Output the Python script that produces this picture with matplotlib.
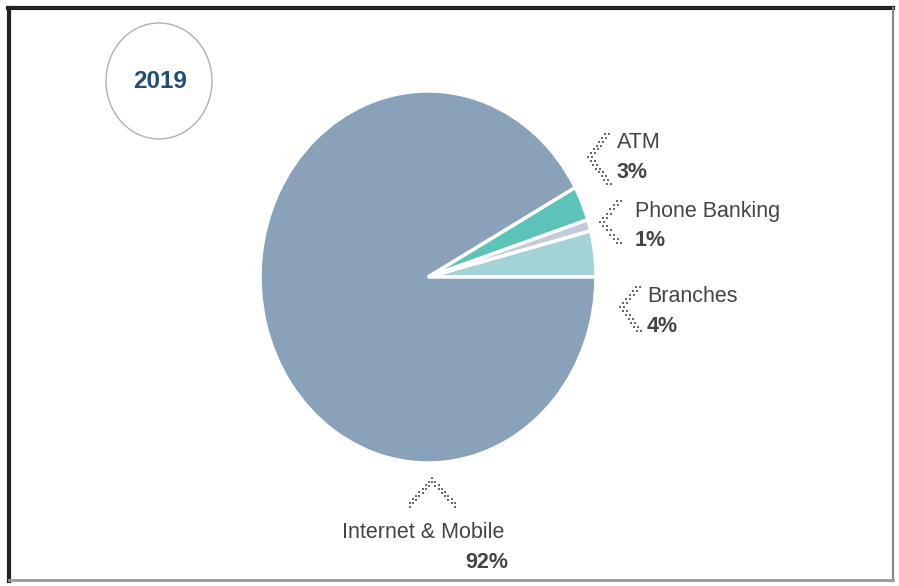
import numpy as np
import matplotlib.pyplot as plt
from matplotlib.patches import Ellipse

plt.rcParams['font.family'] = ['Liberation Sans', 'DejaVu Sans']

# data
channels = ['Branches', 'Phone Banking', 'ATM', 'Internet & Mobile']
shares = [4, 1, 3, 92]
colors = ['#a3d3d6', '#c3cadb', '#5cc3b8', '#89a2ba']
year = '2019'

W, H = 899, 586
fig = plt.figure(figsize=(W / 100, H / 100), dpi=100)

# pie axes (slightly taller than wide, like the original)
cx, cy, rw, rh = 428, 277, 168, 186
pax = fig.add_axes([(cx - rw) / W, (H - cy - rh) / H, 2 * rw / W, 2 * rh / H])
pax.pie(shares, colors=colors, startangle=0, counterclock=True,
        wedgeprops=dict(edgecolor='white', linewidth=2.5))
pax.set_aspect('auto')
pax.set_xlim(-1, 1)
pax.set_ylim(-1, 1)
pax.axis('off')

# overlay in pixel coordinates
ax = fig.add_axes([0, 0, 1, 1], zorder=-1)
ax.set_xlim(0, W)
ax.set_ylim(H, 0)
ax.axis('off')

# frame
ax.plot([9, 9], [8, 581], color='#222222', lw=3)
ax.plot([8, 893], [8, 8], color='#222222', lw=3)
ax.plot([893, 893], [8, 581], color='#888888', lw=1.5)
ax.plot([9, 893], [580, 580], color='#999999', lw=2)

# year badge
ax.add_patch(Ellipse((159, 81), 106, 116, facecolor='white',
                     edgecolor='#b0b0b0', lw=1))
ax.text(160, 82, year, ha='center', va='center', fontsize=17.5,
        fontweight='bold', color='#1f4e7c')


def dotted(pts, off):
    for dx in (0, off):
        p = np.array(pts, dtype=float)
        p[:, 0] += dx
        xs, ys = [], []
        for a, b in zip(p[:-1], p[1:]):
            n = int(np.hypot(*(b - a)) / 5.5) + 1
            t = np.linspace(0, 1, n, endpoint=False)
            xs += list(a[0] + t * (b[0] - a[0]))
            ys += list(a[1] + t * (b[1] - a[1]))
        xs.append(p[-1, 0])
        ys.append(p[-1, 1])
        ax.scatter(xs, ys, s=2.5, marker='s', color='#6a6a6a', lw=0)


# side chevrons
dotted([(605, 134), (588, 157), (607, 184)], 4)
dotted([(617, 201), (600, 222), (617, 243)], 4)
dotted([(636, 287), (620, 307), (637, 331)], 4)
# bottom chevron
p = [(410, 503), (432, 478), (455, 503)]
for dy in (0, 4):
    dotted([(x, y + dy) for x, y in p], 0)

lab = dict(fontsize=15.5, color='#444444', va='center')
pct = dict(fontsize=15.5, color='#444444', va='center', fontweight='bold')
ax.text(617, 143, channels[2], **lab)
ax.text(617, 172, f'{shares[2]}%', **pct)
ax.text(635, 212, channels[1], **lab)
ax.text(635, 241, f'{shares[1]}%', **pct)
ax.text(647, 297, channels[0], **lab)
ax.text(647, 327, f'{shares[0]}%', **pct)
ax.text(423, 533, channels[3], ha='center', **lab)
ax.text(508, 562, f'{shares[3]}%', ha='right', **pct)

fig.savefig('out.png', dpi=100, facecolor='white')
